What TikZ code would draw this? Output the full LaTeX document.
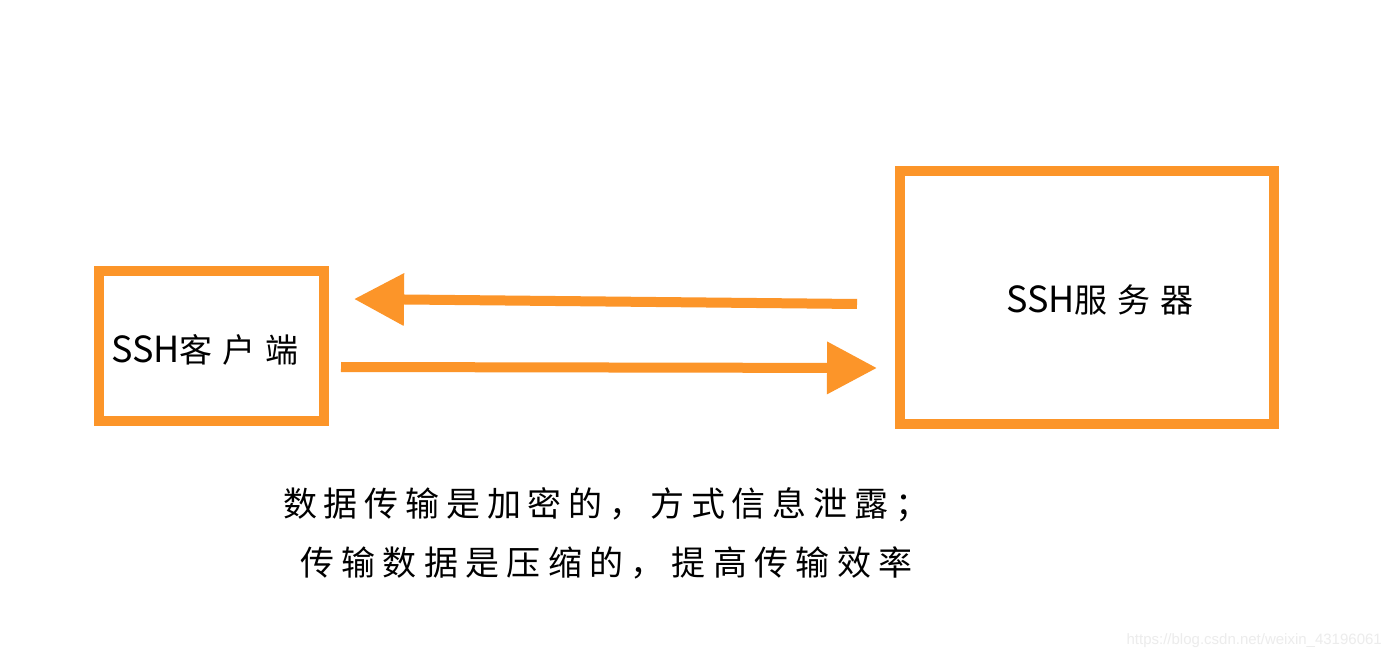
\documentclass[tikz,border=0pt]{standalone}
\usepackage{fontspec}
\setmainfont{Liberation Sans}
\newfontfamily\cjk{Noto Sans CJK SC}
\newfontfamily\cjkwide{Noto Sans CJK SC}[LetterSpace=30]
\newfontfamily\cjkline{Noto Sans CJK SC}[LetterSpace=20]
\newfontfamily\cjkwider{Noto Sans CJK SC}[LetterSpace=21.5]
\usetikzlibrary{arrows.meta}
\definecolor{sshorange}{RGB}{252,149,41}
\definecolor{wmgray}{RGB}{236,236,236}
\begin{document}
\begin{tikzpicture}[x=1pt,y=-1pt,
  hostbox/.style={draw=sshorange, line width=10pt, inner sep=0pt, fill=none},
  flow/.style={draw=sshorange, line width=10pt, -{Triangle[length=50pt,width=50pt]}},
  hostlabel/.style={font=\fontsize{33}{38}\selectfont, text=black, inner sep=0pt},
  note/.style={text=black, inner sep=0pt},
  wm/.style={font=\fontsize{15}{18}\selectfont, text=wmgray, inner sep=0pt}]
\useasboundingbox (0,0) rectangle (1390,660);
\fill[white] (0,0) rectangle (1390,660);
% boxes
\node[hostbox, minimum width=225pt, minimum height=150pt] (cli) at (211.5,346) {};
\node[hostbox, minimum width=374pt, minimum height=253pt] (srv) at (1087,297.5) {};
\node[hostlabel, anchor=west] (clilabel) at (111,350) {{\cjk\fontsize{36}{38}\selectfont SSH}{\cjkwide 客户端}};
\node[hostlabel, anchor=west] (srvlabel) at (1006,300) {{\cjk\fontsize{36}{38}\selectfont SSH}{\cjkwide 服务器}};
% arrows
\coordinate (backstart) at (857,304);
\coordinate (backend) at (354,299);
\coordinate (fwdstart) at (341,367);
\coordinate (fwdend) at (877,368);
\draw[flow] (backstart) -- (backend);
\draw[flow] (fwdstart) -- (fwdend);
% notes
\node[note, anchor=west, font=\cjkline\fontsize{34}{38}\selectfont] (line1) at (283,505) {数据传输是加密的，方式信息泄露；};
\node[note, anchor=west, font=\cjkwider\fontsize{34}{38}\selectfont] (line2) at (300,563) {传输数据是压缩的，提高传输效率};
% watermark
\node[wm, anchor=east] (mark) at (1382,641) {https://blog.csdn.net/weixin\_43196061};
\end{tikzpicture}
\end{document}
